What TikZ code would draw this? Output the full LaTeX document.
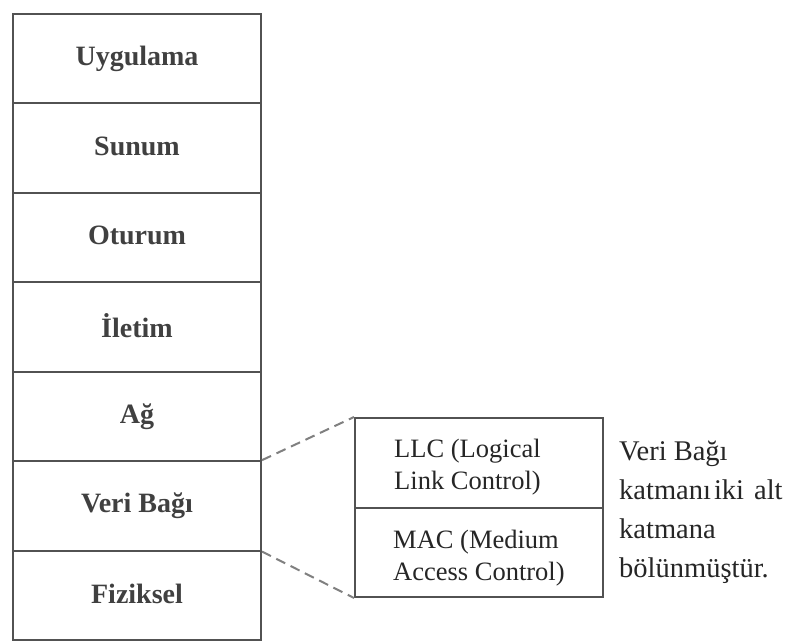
\documentclass[tikz,border=0pt]{standalone}
\usepackage{fontspec}
\setmainfont{Liberation Serif}
\begin{document}
\begin{tikzpicture}[x=1pt,y=-1pt,
  layer/.style={draw=black!68,line width=2pt,minimum width=248pt,minimum height=89.43pt,
    inner sep=0pt,font=\fontsize{28}{32}\selectfont\bfseries,text=black!75},
  sublayer/.style={draw=black!68,line width=2pt,minimum width=248pt,minimum height=89.5pt,inner sep=0pt},
  subtext/.style={anchor=west,align=left,inner sep=0pt,text=black!85,
    font=\fontsize{26.5}{32}\selectfont},
  note/.style={anchor=north west,align=left,inner sep=0pt,text=black!85,
    font=\fontsize{28.5}{39}\selectfont},
  link/.style={draw=black!50,line width=2pt,dash pattern=on 10pt off 6pt}]
\useasboundingbox (0,0) rectangle (787,642);
\fill[white] (0,0) rectangle (787,642);

% OSI layer stack
\foreach \name/\lbl [count=\i from 0] in {app/Uygulama,pres/Sunum,sess/Oturum,trans/İletim,net/Ağ,dl/Veri Bağı,phy/Fiziksel}
  \node[layer] (\name) at (137,{14+89.43*(\i+0.5)}) {\raisebox{4pt}{\lbl}};

% Data link sublayers
\node[sublayer] (llc) at (479,462.75) {};
\node[sublayer] (mac) at (479,552.25) {};
\node[subtext] (llct) at (394,467) {LLC (Logical\\Link Control)};
\node[subtext] (mact) at (393,558) {MAC (Medium\\Access Control)};

% Zoom lines
\draw[link] (dl.north east) -- (llc.north west);
\draw[link] (dl.south east) -- (mac.south west);

% Explanation
\node[note] (desc) at (619,441) {Veri Bağı\\katmanı\hspace{3pt}iki\hspace{10pt}alt\\katmana\\bölünmüştür.};
\end{tikzpicture}
\end{document}
